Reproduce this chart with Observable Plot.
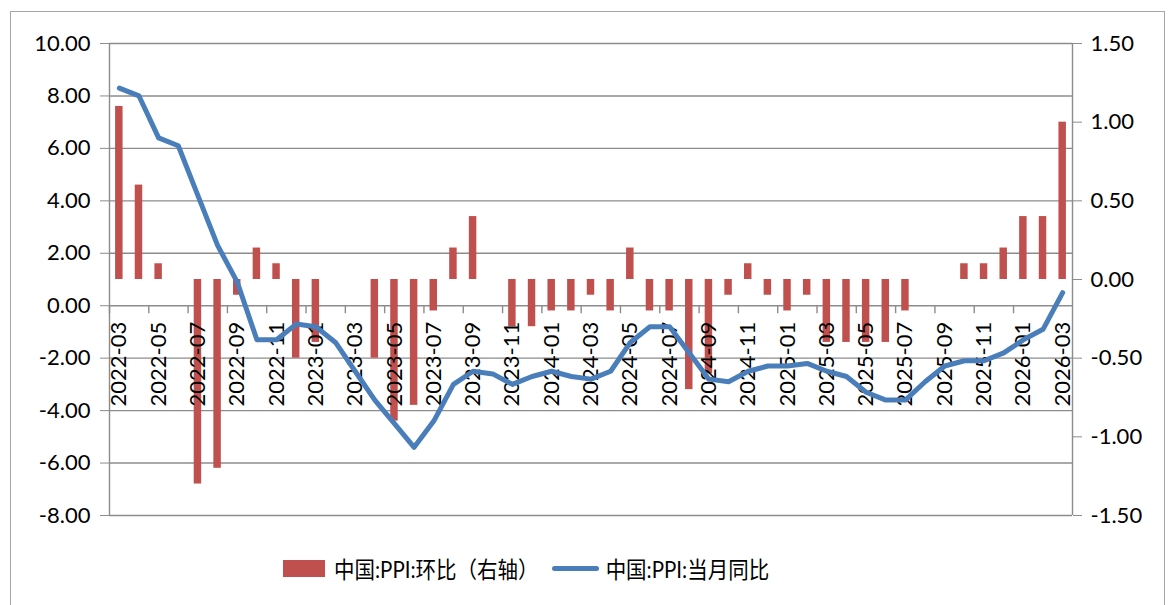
<!DOCTYPE html>
<html>
<head>
<meta charset="utf-8">
<script src="https://cdn.jsdelivr.net/npm/d3@7"></script>
<script src="https://cdn.jsdelivr.net/npm/@observablehq/plot@0.6"></script>
<style>
  html, body { margin: 0; padding: 0; width: 1170px; height: 605px; overflow: hidden; background: #fff; }
  body { position: relative; font-family: Lato, "Noto Sans CJK SC", sans-serif; }
  #border { position: absolute; left: 10px; top: 11px; width: 1153px; height: 640px; border: 1.5px solid #a6a6a6; pointer-events: none; z-index: 5; }
  #legend { position: absolute; left: 283px; top: 540px; height: 56px; display: flex; align-items: center; font-size: 20.5px; color: #000; white-space: nowrap; }
  #legend .t { display: inline-block; transform: scaleY(1.12); }
  .sw-bar { width: 42px; height: 17px; background: #C0504D; margin-right: 9px; }
  .sw-line { width: 47px; height: 5px; border-radius: 3px; background: #4A7EBB; margin: 0 7px 0 13px; }
</style>
</head>
<body>
<div id="chart"></div>
<div id="legend"></div>
<div id="border"></div>
<script>
const months = [
  "2022-03","2022-04","2022-05","2022-06","2022-07","2022-08","2022-09","2022-10","2022-11","2022-12",
  "2023-01","2023-02","2023-03","2023-04","2023-05","2023-06","2023-07","2023-08","2023-09","2023-10","2023-11","2023-12",
  "2024-01","2024-02","2024-03","2024-04","2024-05","2024-06","2024-07","2024-08","2024-09","2024-10","2024-11","2024-12",
  "2025-01","2025-02","2025-03","2025-04","2025-05","2025-06","2025-07","2025-08","2025-09","2025-10","2025-11","2025-12",
  "2026-01","2026-02","2026-03"
];
// 中国:PPI:环比（右轴）
const momValues = [
  1.1, 0.6, 0.1, 0.0, -1.3, -1.2, -0.1, 0.2, 0.1, -0.5,
  -0.4, 0.0, 0.0, -0.5, -0.9, -0.8, -0.2, 0.2, 0.4, 0.0, -0.3, -0.3,
  -0.2, -0.2, -0.1, -0.2, 0.2, -0.2, -0.2, -0.7, -0.6, -0.1, 0.1, -0.1,
  -0.2, -0.1, -0.4, -0.4, -0.4, -0.4, -0.2, 0.0, 0.0, 0.1, 0.1, 0.2,
  0.4, 0.4, 1.0
];
// 中国:PPI:当月同比（左轴）
const yoyValues = [
  8.3, 8.0, 6.4, 6.1, 4.2, 2.3, 0.9, -1.3, -1.3, -0.7,
  -0.8, -1.4, -2.5, -3.6, -4.5, -5.4, -4.4, -3.0, -2.5, -2.6, -3.0, -2.7,
  -2.5, -2.7, -2.8, -2.5, -1.4, -0.8, -0.8, -1.8, -2.8, -2.9, -2.5, -2.3,
  -2.3, -2.2, -2.5, -2.7, -3.3, -3.6, -3.6, -2.9, -2.3, -2.1, -2.1, -1.8,
  -1.3, -0.9, 0.5
];
const leftTicks = [-8, -6, -4, -2, 0, 2, 4, 6, 8, 10];
const rightTicks = [-1.5, -1.0, -0.5, 0.0, 0.5, 1.0, 1.5];
const seriesNames = ["中国:PPI:环比（右轴）", "中国:PPI:当月同比"];
const colors = ["#C0504D", "#4A7EBB"];

// right axis [-1.5, 1.5] maps onto left axis [-8, 10]
const leftDomain = [-8, 10];
const rightDomain = [-1.5, 1.5];
const toLeft = v => leftDomain[0] + (v - rightDomain[0]) * (leftDomain[1] - leftDomain[0]) / (rightDomain[1] - rightDomain[0]);
const toRight = y => rightDomain[0] + (y - leftDomain[0]) * (rightDomain[1] - rightDomain[0]) / (leftDomain[1] - leftDomain[0]);

const data = months.map((m, i) => ({month: m, mom: momValues[i], yoy: yoyValues[i]}));
const labelMonths = months.filter((m, i) => i % 2 === 0);

const W = 1170, H = 540, mL = 109, mR = 98, mT = 43, mB = 25;
const bw = (W - mL - mR) / months.length;
const grid = "#8c8c8c";

const plot = Plot.plot({
  width: W, height: H,
  marginLeft: mL, marginRight: mR, marginTop: mT, marginBottom: mB,
  style: {fontFamily: "Lato, 'Noto Sans CJK SC', sans-serif", fontSize: "22px", background: "transparent", color: "#000"},
  x: {type: "band", domain: months, paddingInner: 0.62, paddingOuter: 0.31, axis: null},
  y: {domain: leftDomain, axis: null},
  marks: [
    Plot.ruleY(leftTicks, {stroke: grid, strokeWidth: 1.4}),
    Plot.ruleX([months[0]], {dx: -bw / 2, stroke: grid, strokeWidth: 1.4}),
    Plot.ruleX([months[months.length - 1]], {dx: bw / 2, stroke: grid, strokeWidth: 1.4}),
    Plot.axisY({anchor: "left", label: null, ticks: leftTicks, tickFormat: d => d.toFixed(2), tickSize: 9, tickPadding: 10, stroke: grid, fill: "#000", fontSize: 22}),
    Plot.axisY({anchor: "right", label: null, ticks: rightTicks.map(toLeft), tickFormat: d => toRight(d).toFixed(2), tickSize: 9, tickPadding: 9, stroke: grid, fill: "#000", fontSize: 22}),
    Plot.barY(data, {x: "month", y1: toLeft(0), y2: d => toLeft(d.mom), fill: colors[0]}),
    Plot.ruleX(labelMonths, {x: d => d, y1: 0, y2: 0, insetBottom: -8, dx: -bw / 2, stroke: grid, strokeWidth: 1.4}),
    Plot.text(labelMonths, {x: d => d, y: 0, text: d => d, rotate: -90, textAnchor: "end", dy: 16, fontSize: 22, fill: "#000"}),
    Plot.line(data, {x: "month", y: "yoy", stroke: colors[1], strokeWidth: 5, curve: "linear", strokeLinejoin: "round", strokeLinecap: "round"})
  ]
});
document.getElementById("chart").appendChild(plot);

const lg = document.getElementById("legend");
lg.innerHTML = `<span class="sw-bar"></span><span class="t">${seriesNames[0]}</span><span class="sw-line"></span><span class="t">${seriesNames[1]}</span>`;
</script>
</body>
</html>
